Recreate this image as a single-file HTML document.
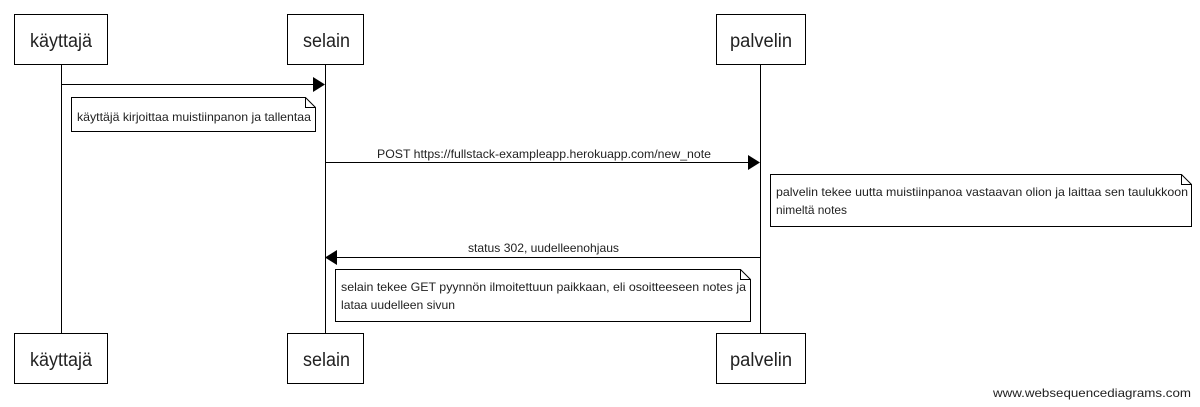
<!DOCTYPE html>
<html><head><meta charset="utf-8"><style>html,body{margin:0;padding:0;background:#fff;width:1200px;height:407px;overflow:hidden}</style></head>
<body>
<svg width="1200" height="407" xmlns="http://www.w3.org/2000/svg" font-family="Liberation Sans, sans-serif">
<g stroke="#000" stroke-width="1" fill="none">
<line x1="61.5" y1="64" x2="61.5" y2="333"/>
<line x1="325.5" y1="64" x2="325.5" y2="333"/>
<line x1="760.5" y1="64" x2="760.5" y2="333"/>
<rect x="14.5" y="14.5" width="93" height="50" fill="#fff"/>
<rect x="287.5" y="14.5" width="76" height="50" fill="#fff"/>
<rect x="716.5" y="14.5" width="89" height="50" fill="#fff"/>
<rect x="14.5" y="333.5" width="93" height="50" fill="#fff"/>
<rect x="287.5" y="333.5" width="76" height="50" fill="#fff"/>
<rect x="716.5" y="333.5" width="89" height="50" fill="#fff"/>
<line x1="61" y1="84.5" x2="315" y2="84.5"/>
<line x1="325" y1="162.5" x2="750" y2="162.5"/>
<line x1="336" y1="257.5" x2="760" y2="257.5"/>
<path d="M71.5 97.5 H305.5 L315.5 107.5 V131.5 H71.5 Z M305.5 97.5 V107.5 H315.5" fill="#fff"/>
<path d="M770.5 174.5 H1181.5 L1191.5 184.5 V226.5 H770.5 Z M1181.5 174.5 V184.5 H1191.5" fill="#fff"/>
<path d="M335.5 269.5 H740.5 L750.5 279.5 V321.5 H335.5 Z M740.5 269.5 V279.5 H750.5" fill="#fff"/>
</g>
<polygon points="313,77 325,84.5 313,92" fill="#000"/>
<polygon points="748,155 760,162.5 748,170" fill="#000"/>
<polygon points="337,250 325,257.5 337,265" fill="#000"/>
<g font-size="19" fill="#222">
<text x="30" y="47" textLength="62" lengthAdjust="spacingAndGlyphs">käyttajä</text>
<text x="303" y="47" textLength="47" lengthAdjust="spacingAndGlyphs">selain</text>
<text x="730" y="47" textLength="62" lengthAdjust="spacingAndGlyphs">palvelin</text>
<text x="30" y="366" textLength="62" lengthAdjust="spacingAndGlyphs">käyttajä</text>
<text x="303" y="366" textLength="47" lengthAdjust="spacingAndGlyphs">selain</text>
<text x="730" y="366" textLength="62" lengthAdjust="spacingAndGlyphs">palvelin</text>
</g>
<g font-size="12" fill="#222" lengthAdjust="spacingAndGlyphs">
<text x="377" y="158" textLength="334" lengthAdjust="spacingAndGlyphs">POST https://fullstack-exampleapp.herokuapp.com/new_note</text>
<text x="468" y="252" textLength="151" lengthAdjust="spacingAndGlyphs">status 302, uudelleenohjaus</text>
<text x="77" y="121" textLength="234" lengthAdjust="spacingAndGlyphs">käyttäjä kirjoittaa muistiinpanon ja tallentaa</text>
<text x="776" y="196" textLength="412" lengthAdjust="spacingAndGlyphs">palvelin tekee uutta muistiinpanoa vastaavan olion ja laittaa sen taulukkoon</text>
<text x="776" y="214" textLength="71" lengthAdjust="spacingAndGlyphs">nimeltä notes</text>
<text x="341" y="291" textLength="405" lengthAdjust="spacingAndGlyphs">selain tekee GET pyynnön ilmoitettuun paikkaan, eli osoitteeseen notes ja</text>
<text x="341" y="309" textLength="114" lengthAdjust="spacingAndGlyphs">lataa uudelleen sivun</text>
<text x="993" y="397" textLength="198" lengthAdjust="spacingAndGlyphs">www.websequencediagrams.com</text>
</g>
</svg>
</body></html>
